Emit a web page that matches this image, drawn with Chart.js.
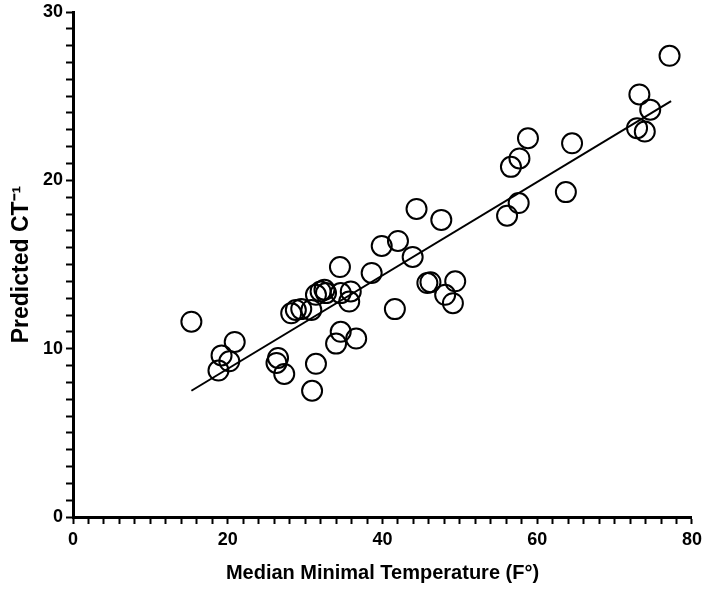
<!DOCTYPE html>
<html>
<head>
<meta charset="utf-8">
<script src="https://cdn.jsdelivr.net/npm/chart.js@4"></script>
<style>
  body { margin: 0; background: #fff; }
  #wrap { width: 704px; height: 591px; }
</style>
</head>
<body>
<div id="wrap"><canvas id="ctChart" width="704" height="591"></canvas></div>
<script>
// values
const tempX = [15.3, 20.9, 19.2, 20.2, 18.8, 26.5, 26.3, 27.3, 31.4, 30.9,
               34.5, 28.2, 28.8, 29.5, 31.4, 32.0, 32.5, 32.7, 34.6, 35.9,
               35.7, 34.6, 34.0, 36.6, 44.4, 47.6, 39.9, 42.0, 43.9, 38.6,
               57.6, 56.1, 45.8, 46.2, 49.4, 48.1, 49.1, 41.6, 77.1, 73.2,
               74.6, 72.9, 73.9, 58.8, 57.7, 56.6, 64.5, 63.7, 30.8];
const predCT = [11.6, 10.4, 9.6, 9.25, 8.7, 9.45, 9.15, 8.5, 9.1, 7.5,
                14.85, 12.1, 12.3, 12.35, 13.2, 13.4, 13.5, 13.3, 13.3, 13.4,
                12.8, 11.0, 10.3, 10.6, 18.3, 17.65, 16.1, 16.4, 15.45, 14.5,
                18.65, 17.9, 13.9, 13.95, 14.0, 13.2, 12.7, 12.35, 27.4, 25.1,
                24.2, 23.1, 22.9, 22.5, 21.3, 20.8, 22.2, 19.3, 12.3];
const fitX = [15.3, 77.3];
const fitY = [7.5, 24.7];
const xMajor = [0, 20, 40, 60, 80];
const yMajor = [0, 10, 20, 30];

document.addEventListener("DOMContentLoaded", function() {
    const ctx = document.getElementById('ctChart').getContext('2d');
    const fam = 'Liberation Sans, Arial, sans-serif';

    new Chart(ctx, {
        type: 'scatter',
        data: {
            datasets: [{
                data: tempX.map((x, i) => ({ x: x, y: predCT[i] })),
                pointStyle: 'circle',
                pointRadius: 10,
                pointHoverRadius: 10,
                borderColor: '#000',
                borderWidth: 2,
                backgroundColor: 'rgba(0,0,0,0)'
            }, {
                type: 'line',
                data: fitX.map((x, i) => ({ x: x, y: fitY[i] })),
                borderColor: '#000',
                borderWidth: 2,
                pointRadius: 0,
                fill: false
            }]
        },
        options: {
            responsive: false,
            animation: false,
            layout: { padding: 0 },
            scales: {
                x: {
                    type: 'linear',
                    min: 0,
                    max: 80,
                    border: { color: '#000', width: 3 },
                    grid: {
                        drawOnChartArea: false,
                        tickColor: '#000',
                        tickLength: 7,
                        tickWidth: 2
                    },
                    ticks: {
                        stepSize: 2,
                        autoSkip: false,
                        maxRotation: 0,
                        padding: 2,
                        color: '#000',
                        font: { family: fam, weight: 'bold', size: 18, lineHeight: 1.6 },
                        callback: v => xMajor.includes(v) ? v : ''
                    },
                    title: {
                        display: true,
                        text: 'Median Minimal Temperature (F°)',
                        color: '#000',
                        font: { family: fam, weight: 'bold', size: 20 },
                        padding: { top: 4, bottom: 6 }
                    },
                    afterFit: s => { s.height = 74; }
                },
                y: {
                    min: 0,
                    max: 30,
                    border: { color: '#000', width: 3 },
                    grid: {
                        drawOnChartArea: false,
                        tickColor: '#000',
                        tickLength: 7,
                        tickWidth: 2
                    },
                    ticks: {
                        stepSize: 1,
                        autoSkip: false,
                        padding: 3,
                        color: '#000',
                        font: { family: fam, weight: 'bold', size: 18, lineHeight: 0.8 },
                        callback: v => yMajor.includes(v) ? v : ''
                    },
                    title: {
                        display: true,
                        text: 'Predicted CT⁻¹',
                        color: '#000',
                        font: { family: fam, weight: 'bold', size: 23 },
                        padding: { top: 8, bottom: 4 }
                    },
                    afterFit: s => { s.width = 73; }
                }
            },
            plugins: {
                legend: { display: false },
                tooltip: { enabled: false }
            }
        }
    });
});
</script>
</body>
</html>
